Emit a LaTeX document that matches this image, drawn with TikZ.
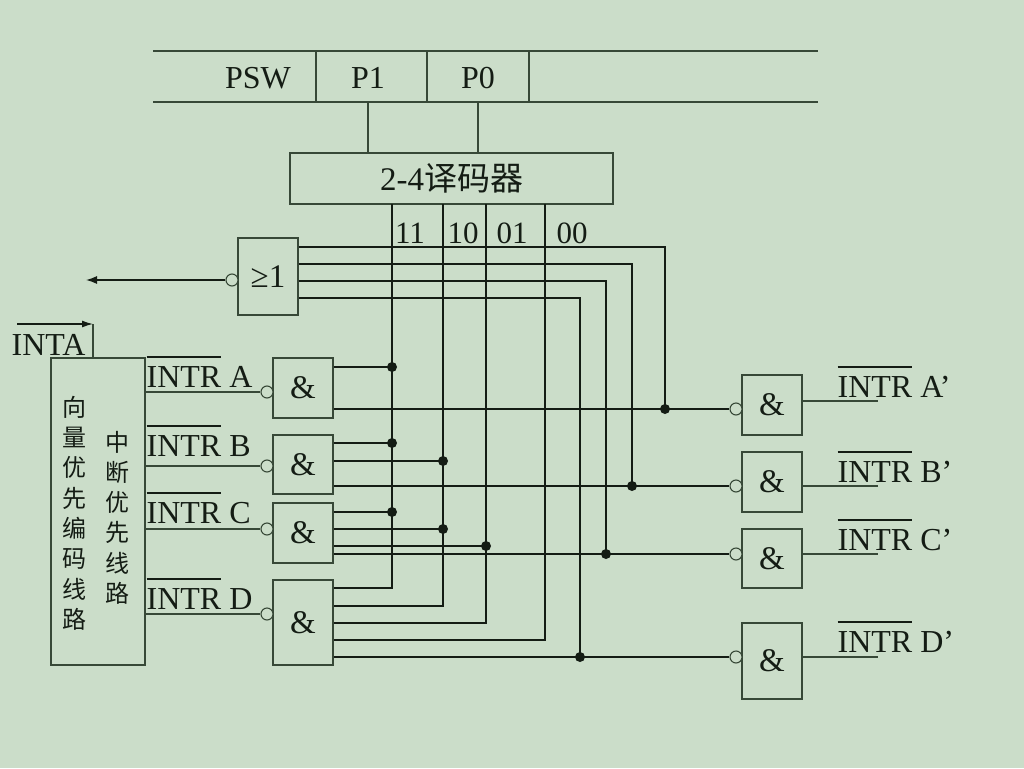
\documentclass[tikz,border=0pt]{standalone}
\usepackage{fontspec}
\setmainfont{Liberation Serif}
\newfontfamily\cjk{Noto Sans CJK SC}
\usepackage{tikz}
\usetikzlibrary{arrows.meta, positioning}

\definecolor{slidebg}{RGB}{203,221,201}
\definecolor{frame}{RGB}{55,72,55}
\definecolor{wire}{RGB}{20,28,20}
\newcommand\nbar[1]{\sbox0{#1}\rlap{\rule[29.5pt]{\wd0}{1.2pt}}\usebox0}

\begin{document}
\begin{tikzpicture}[x=1pt, y=-1pt, line width=1.3pt, wire,
  box/.style={draw=frame, minimum width=60pt, inner sep=0pt, font=\fontsize{33}{33}\selectfont},
  neg/.style={circle, draw=frame, fill=slidebg, inner sep=0pt, minimum size=12pt, line width=1.1pt},
  dot/.style={circle, fill=wire, inner sep=0pt, minimum size=10pt},
  txt/.style={inner sep=0pt, font=\fontsize{32}{32}\selectfont},
  zh/.style={inner sep=0pt, font=\cjk\fontsize{24}{24}\selectfont}]
\fill[slidebg] (0,0) rectangle (1024,768);

\draw[frame] (153,51) -- (818,51) (153,102) -- (818,102);
\foreach \x in {316,427,529} \draw[frame] (\x,51) -- (\x,102);
\node[txt] (psw) at (258,78) {PSW};
\node[txt] (p1) at (368,78) {P1};
\node[txt] (p0) at (478,78) {P0};
\node[box, minimum width=323pt, minimum height=51pt] (dec) at (451.5,178.5) {2-4{\cjk 译码器}};
\draw[frame] (p1 |- 0,102) -- (p1 |- dec.north);
\draw[frame] (p0 |- 0,102) -- (p0 |- dec.north);
\foreach \n/\x in {11/392,10/443,01/486,00/545} \coordinate (o\n) at (\x,204);
\foreach \n/\x in {11/410,10/463,01/512,00/572}
  \node[txt, anchor=base, font=\fontsize{31}{31}\selectfont] (l\n) at (\x,243) {\n};

\node[box, minimum height=77pt] (or) at (268,276.5) {≥1};
\node[neg] (orneg) at (232,280) {};
\coordinate (req) at (86,280);
\draw[-{Latex[length=11pt,width=8pt]}] (orneg.west) -- (req);
\foreach \y/\x/\t in {247/665/409,264/632/486,281/606/554,298/580/657}
  \draw (or.east |- 0,\y) -- (\x,\y) -- (\x,\t) node[dot] {};

\node[draw=frame, minimum width=94pt, minimum height=307pt] (enc) at (98,511.5) {};
\foreach \c [count=\i from 0] in {向,量,优,先,编,码,线,路}
  \node[zh] (u\i) at (74,{407+30.4*\i}) {\c};
\foreach \c [count=\i from 0] in {中,断,优,先,线,路}
  \node[zh] (w\i) at (117,{442+30.3*\i}) {\c};
\node[txt, anchor=base west] (inta) at (11,355) {INTA};
\coordinate (ack) at (93,324);
\draw[-{Latex[length=11pt,width=7pt]}] (17,324) -- (ack);
\draw[frame] (ack) -- (ack |- enc.north);

\node[box, minimum height=60pt] (gA) at (303,388) {\&};
\node[box, minimum height=59pt] (gB) at (303,464.5) {\&};
\node[box, minimum height=60pt] (gC) at (303,533) {\&};
\node[box, minimum height=85pt] (gD) at (303,622.5) {\&};
\foreach \g/\y/\b in {A/392/387,B/466/456,C/529/523,D/614/609} {
  \node[neg] (n\g) at (267,\y) {};
  \draw[frame] (enc.east |- n\g) -- (n\g.west);
  \node[txt, anchor=base west] (i\g) at (146,\b) {\nbar{INTR} \g};
}

\draw (gA.east |- 0,367) -- (o11 |- 0,367) node[dot] {};
\foreach \n/\y in {11/443,10/461}
  \draw (gB.east |- 0,\y) -- (o\n |- 0,\y) node[dot] {};
\foreach \n/\y in {11/512,10/529,01/546}
  \draw (gC.east |- 0,\y) -- (o\n |- 0,\y) node[dot] {};
\foreach \n/\y in {11/588,10/606,01/623,00/640}
  \draw (o\n) -- (o\n |- 0,\y) -- (gD.east |- 0,\y);

\node[box, minimum height=60pt] (hA) at (772,405) {\&};
\node[box, minimum height=60pt] (hB) at (772,482) {\&};
\node[box, minimum height=59pt] (hC) at (772,558.5) {\&};
\node[box, minimum height=76pt] (hD) at (772,661) {\&};
\foreach \g/\y/\o/\b in {A/409/401/397,B/486/486/482,C/554/554/550,D/657/657/652} {
  \node[neg] (m\g) at (736,\y) {};
  \draw (g\g.east |- m\g) -- (m\g.west);
  \coordinate (out\g) at (878,\o);
  \draw[frame] (h\g.east |- out\g) -- (out\g);
  \node[txt, anchor=base west] (j\g) at (837,\b) {\nbar{INTR} \g'};
}
\end{tikzpicture}
\end{document}
